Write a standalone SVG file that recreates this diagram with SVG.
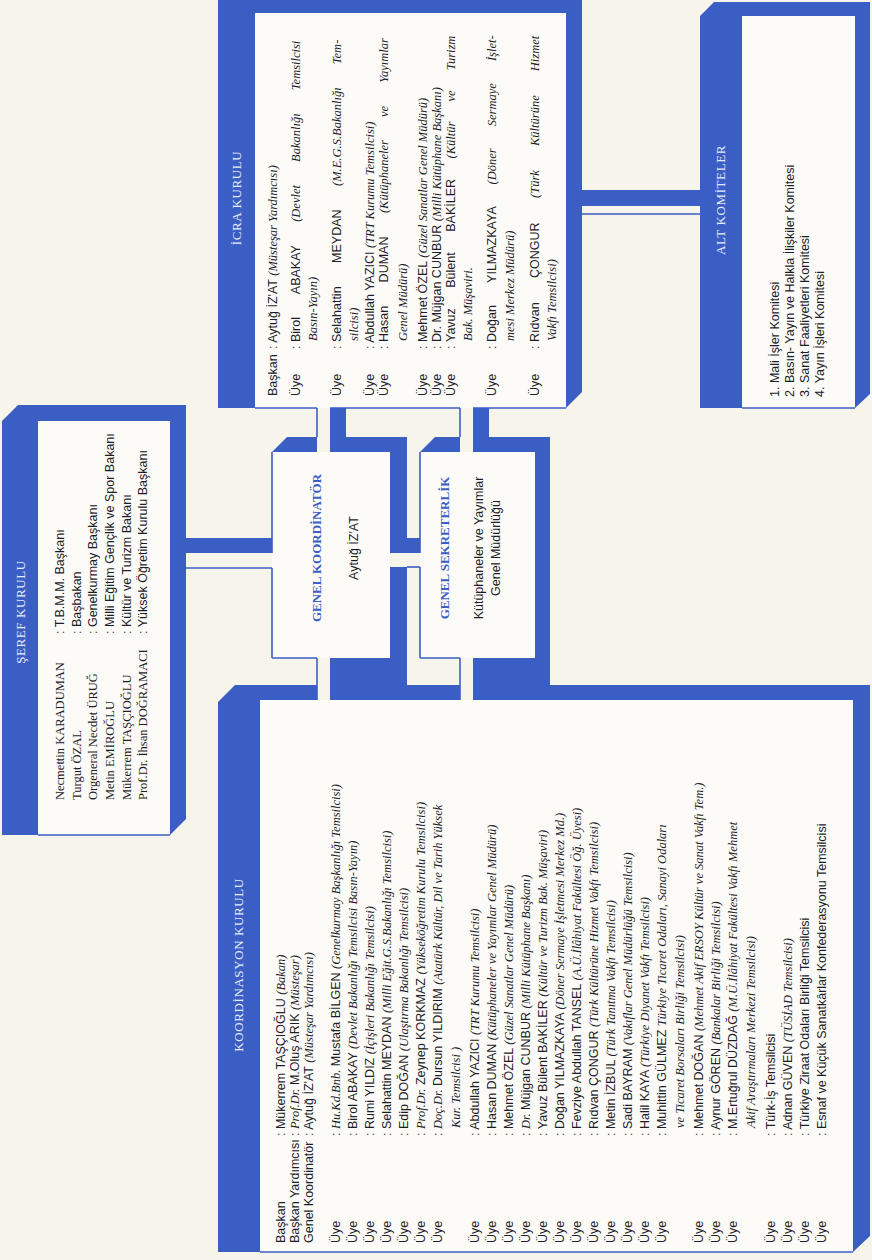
<svg xmlns="http://www.w3.org/2000/svg" width="872" height="1260" viewBox="0 0 872 1260">
<style>
.bg{fill:#f7f4ec}
.in{fill:#fcfbf7}
.b{fill:#3a5ec4}
.th{stroke:#3a5ec4;stroke-width:1.6;fill:none}
.ttl{font-family:"Liberation Serif",serif;font-size:13px;fill:#e6ebf8;letter-spacing:0.6px;text-anchor:middle}
.bt{font-family:"Liberation Serif",serif;font-size:13px;fill:#3a5ec4;font-weight:bold;text-anchor:middle}
.s{font-family:"Liberation Sans",sans-serif;font-size:12.5px;fill:#1c1c2a}
.sr{font-family:"Liberation Serif",serif;font-size:12.5px;fill:#1c1c2a}
.it{font-family:"Liberation Serif",serif;font-style:italic}
.c{text-anchor:middle}
</style>
<rect class="bg" x="0" y="0" width="872" height="1260"/>

<g id="connectors">
  <!-- Şeref -> Genel Koordinatör -->
  <rect class="b" x="186" y="538" width="87" height="15"/>
  <line class="th" x1="186" y1="568" x2="272" y2="568"/>
  <!-- İcra -> Genel Koordinatör -->
  <rect class="b" x="330" y="408" width="16" height="44"/>
  <line class="th" x1="317" y1="408" x2="317" y2="437"/>
  <!-- İcra -> Genel Sekreterlik -->
  <rect class="b" x="473" y="408" width="16" height="44"/>
  <line class="th" x1="460" y1="408" x2="460" y2="437"/>
  <!-- Genel Koordinatör -> Genel Sekreterlik -->
  <rect class="b" x="406" y="538" width="15" height="15"/>
  <line class="th" x1="407" y1="567" x2="420" y2="567"/>
  <!-- Genel Koordinatör -> Koordinasyon -->
  <rect class="b" x="330" y="643" width="77" height="43"/>
  <line class="th" x1="317" y1="658" x2="317" y2="700"/>
  <!-- Genel Sekreterlik -> Koordinasyon -->
  <rect class="b" x="473" y="643" width="77" height="43"/>
  <line class="th" x1="460" y1="658" x2="460" y2="700"/>
  <!-- İcra -> Alt Komiteler -->
  <rect class="b" x="581" y="190" width="120" height="16"/>
  <line class="th" x1="582" y1="214" x2="700" y2="214"/>
</g>

<g id="seref">
  <rect class="in" x="38" y="421" width="132" height="414"/>
  <polygon class="b" points="2,421 18,405 186,405 186,819 170,835 170,421 38,421 38,835 2,835"/>
  <line class="th" x1="38" y1="835" x2="170" y2="835"/>
  <text class="ttl" transform="translate(25,612) rotate(-90)">ŞEREF KURULU</text>
  <g class="sr">
    <text transform="translate(64,800) rotate(-90)">Necmettin KARADUMAN</text>
    <text transform="translate(81,800) rotate(-90)">Turgut ÖZAL</text>
    <text transform="translate(97,800) rotate(-90)">Orgeneral Necdet ÜRUĞ</text>
    <text transform="translate(114,800) rotate(-90)">Metin EMİROĞLU</text>
    <text transform="translate(131,800) rotate(-90)">Mükerrem TAŞÇIOĞLU</text>
    <text transform="translate(147,800) rotate(-90)">Prof.Dr. İhsan DOĞRAMACI</text>
  </g>
  <g class="s" font-size="11.5px">
    <text transform="translate(64,634) rotate(-90)">:  T.B.M.M. Başkanı</text>
    <text transform="translate(81,634) rotate(-90)">:  Başbakan</text>
    <text transform="translate(97,634) rotate(-90)">:  Genelkurmay Başkanı</text>
    <text transform="translate(114,634) rotate(-90)">:  Milli Eğitim Gençlik ve Spor Bakanı</text>
    <text transform="translate(131,634) rotate(-90)">:  Kültür ve Turizm Bakanı</text>
    <text transform="translate(147,634) rotate(-90)">:  Yüksek Öğretim Kurulu Başkanı</text>
  </g>
</g>

<g id="icra">
  <rect class="in" x="255" y="13" width="311" height="395"/>
  <polygon class="b" points="218,0 582,0 582,392 566,408 566,13 255,13 255,408 218,408"/>
  <line class="th" x1="255" y1="408" x2="317" y2="408"/>
  <line class="th" x1="330" y1="408" x2="460" y2="408"/>
  <line class="th" x1="473" y1="408" x2="566" y2="408"/>
  <text class="ttl" transform="translate(241,198) rotate(-90)">İCRA KURULU</text>
  <g class="s">
    <text transform="translate(277,396) rotate(-90)">Başkan</text>
    <text transform="translate(300,396) rotate(-90)">Üye</text>
    <text transform="translate(341,396) rotate(-90)">Üye</text>
    <text transform="translate(374,396) rotate(-90)">Üye</text>
    <text transform="translate(388,396) rotate(-90)">Üye</text>
    <text transform="translate(427,396) rotate(-90)">Üye</text>
    <text transform="translate(441,396) rotate(-90)">Üye</text>
    <text transform="translate(455,396) rotate(-90)">Üye</text>
    <text transform="translate(496,396) rotate(-90)">Üye</text>
    <text transform="translate(539,396) rotate(-90)">Üye</text>
    <text transform="translate(300,349) rotate(-90)">:</text>
    <text transform="translate(341,349) rotate(-90)">:</text>
    <text transform="translate(388,349) rotate(-90)">:</text>
    <text transform="translate(455,349) rotate(-90)">:</text>
    <text transform="translate(496,349) rotate(-90)">:</text>
    <text transform="translate(539,349) rotate(-90)">:</text>

    <text transform="translate(277,349) rotate(-90)">: Aytuğ İZ'AT <tspan class="it">(Müsteşar Yardımcısı)</tspan></text>
    <text transform="translate(300,342) rotate(-90)" word-spacing="20">Birol ABAKAY <tspan class="it">(Devlet Bakanlığı Temsilcisi</tspan></text>
    <text class="it" transform="translate(317,341) rotate(-90)">Basın-Yayın)</text>
    <text transform="translate(341,342) rotate(-90)" word-spacing="20">Selahattin MEYDAN <tspan class="it">(M.E.G.S.Bakanlığı Tem-</tspan></text>
    <text class="it" transform="translate(358,341) rotate(-90)">silcisi)</text>
    <text transform="translate(374,349) rotate(-90)">: Abdullah YAZICI <tspan class="it">(TRT Kurumu Temsilcisi)</tspan></text>
    <text transform="translate(388,342) rotate(-90)" word-spacing="20">Hasan DUMAN <tspan class="it">(Kütüphaneler ve Yayımlar</tspan></text>
    <text class="it" transform="translate(407,341) rotate(-90)">Genel Müdürü)</text>
    <text transform="translate(427,349) rotate(-90)">: Mehmet ÖZEL <tspan class="it">(Güzel Sanatlar Genel Müdürü)</tspan></text>
    <text transform="translate(441,349) rotate(-90)">: Dr. Müjgan CUNBUR <tspan class="it">(Milli Kütüphane Başkanı)</tspan></text>
    <text transform="translate(455,342) rotate(-90)" word-spacing="17">Yavuz Bülent BAKİLER <tspan class="it">(Kültür ve Turizm</tspan></text>
    <text class="it" transform="translate(472,341) rotate(-90)">Bak. Müşaviri.</text>
    <text transform="translate(496,342) rotate(-90)" word-spacing="19">Doğan YILMAZKAYA <tspan class="it">(Döner Sermaye İşlet-</tspan></text>
    <text class="it" transform="translate(514,341) rotate(-90)">mesi Merkez Müdürü)</text>
    <text transform="translate(539,342) rotate(-90)" word-spacing="21">Rıdvan ÇONGUR <tspan class="it">(Türk Kültürüne Hizmet</tspan></text>
    <text class="it" transform="translate(556,341) rotate(-90)">Vakfı Temsilcisi)</text>
  </g>
</g>

<g id="alt-komiteler">
  <rect class="in" x="742" y="16" width="113" height="392"/>
  <polygon class="b" points="700,16 714,2 870,2 870,394 855,408 855,16 742,16 742,408 700,408"/>
  <line class="th" x1="742" y1="408" x2="855" y2="408"/>
  <text class="ttl" transform="translate(725,200) rotate(-90)">ALT KOMİTELER</text>
  <g class="s">
    <text transform="translate(779,397) rotate(-90)">1.  Mali İşler Komitesi</text>
    <text transform="translate(794,397) rotate(-90)">2.  Basın- Yayın ve Halkla İlişkiler Komitesi</text>
    <text transform="translate(809,397) rotate(-90)">3.  Sanat Faaliyetleri Komitesi</text>
    <text transform="translate(824,397) rotate(-90)">4.  Yayın İşleri Komitesi</text>
  </g>
</g>

<g id="genel-koordinator">
  <rect class="in" x="272" y="452" width="118" height="206"/>
  <polygon class="b" points="272,452 287,437 317,437 317,452"/>
  <rect class="b" x="330" y="437" width="77" height="15"/>
  <rect class="b" x="390" y="437" width="17" height="116"/>
  <polygon class="b" points="390,567 407,567 407,643 390,658"/>
  <line class="th" x1="272" y1="452" x2="272" y2="553"/>
  <line class="th" x1="272" y1="568" x2="272" y2="658"/>
  <line class="th" x1="272" y1="658" x2="317" y2="658"/>
  <text class="bt" transform="translate(321,548) rotate(-90)">GENEL KOORDİNATÖR</text>
  <text class="s c" font-size="13.5px" transform="translate(358,548) rotate(-90)">Aytuğ İZ'AT</text>
</g>

<g id="genel-sekreterlik">
  <rect class="in" x="420" y="452" width="115" height="206"/>
  <polygon class="b" points="420,452 435,437 460,437 460,452"/>
  <rect class="b" x="473" y="437" width="77" height="15"/>
  <polygon class="b" points="535,437 550,437 550,643 535,658"/>
  <line class="th" x1="420" y1="452" x2="420" y2="553"/>
  <line class="th" x1="420" y1="567" x2="420" y2="658"/>
  <line class="th" x1="420" y1="658" x2="460" y2="658"/>
  <text class="bt" transform="translate(449,548) rotate(-90)">GENEL SEKRETERLİK</text>
  <text class="s c" font-size="13px" transform="translate(483,548) rotate(-90)">Kütüphaneler ve Yayımlar</text>
  <text class="s c" font-size="13px" transform="translate(500,548) rotate(-90)">Genel Müdürlüğü</text>
</g>

<g id="koordinasyon">
  <rect class="in" x="260" y="700" width="593" height="552"/>
  <polygon class="b" points="218,702 235,685 317,685 317,700 260,700 260,1252 218,1252"/>
  <rect class="b" x="330" y="685" width="130" height="15"/>
  <polygon class="b" points="473,685 870,685 870,1236 853,1252 853,700 473,700"/>
  <line class="th" x1="260" y1="1252" x2="853" y2="1252"/>
  <text class="ttl" transform="translate(243,965) rotate(-90)">KOORDİNASYON KURULU</text>
  <g class="s">
    <text transform="translate(285,1243) rotate(-90)">Başkan</text>
    <text transform="translate(299,1243) rotate(-90)">Başkan Yardımcısı</text>
    <text transform="translate(313,1243) rotate(-90)">Genel Koordinatör</text>
    <text transform="translate(285,1136) rotate(-90)">: Mükerrem TAŞÇIOĞLU <tspan class="it">(Bakan)</tspan></text>
    <text transform="translate(299,1136) rotate(-90)">: <tspan class="it">Prof.Dr.</tspan> M.Oluş ARIK <tspan class="it">(Müsteşar)</tspan></text>
    <text transform="translate(313,1136) rotate(-90)">: Aytuğ İZ'AT <tspan class="it">(Müsteşar Yardımcısı)</tspan></text>

    <text transform="translate(340,1243) rotate(-90)">Üye</text>
    <text transform="translate(357,1243) rotate(-90)">Üye</text>
    <text transform="translate(374,1243) rotate(-90)">Üye</text>
    <text transform="translate(391,1243) rotate(-90)">Üye</text>
    <text transform="translate(408,1243) rotate(-90)">Üye</text>
    <text transform="translate(425,1243) rotate(-90)">Üye</text>
    <text transform="translate(442,1243) rotate(-90)">Üye</text>
    <text transform="translate(479,1243) rotate(-90)">Üye</text>
    <text transform="translate(496,1243) rotate(-90)">Üye</text>
    <text transform="translate(513,1243) rotate(-90)">Üye</text>
    <text transform="translate(530,1243) rotate(-90)">Üye</text>
    <text transform="translate(547,1243) rotate(-90)">Üye</text>
    <text transform="translate(564,1243) rotate(-90)">Üye</text>
    <text transform="translate(581,1243) rotate(-90)">Üye</text>
    <text transform="translate(598,1243) rotate(-90)">Üye</text>
    <text transform="translate(615,1243) rotate(-90)">Üye</text>
    <text transform="translate(632,1243) rotate(-90)">Üye</text>
    <text transform="translate(649,1243) rotate(-90)">Üye</text>
    <text transform="translate(666,1243) rotate(-90)">Üye</text>
    <text transform="translate(703,1243) rotate(-90)">Üye</text>
    <text transform="translate(720,1243) rotate(-90)">Üye</text>
    <text transform="translate(737,1243) rotate(-90)">Üye</text>
    <text transform="translate(775,1243) rotate(-90)">Üye</text>
    <text transform="translate(792,1243) rotate(-90)">Üye</text>
    <text transform="translate(809,1243) rotate(-90)">Üye</text>
    <text transform="translate(826,1243) rotate(-90)">Üye</text>

    <text transform="translate(340,1136) rotate(-90)">: <tspan class="it">Hu.Kd.Bnb.</tspan> Mustafa BİLGEN <tspan class="it">(Genelkurmay Başkanlığı Temsilcisi)</tspan></text>
    <text transform="translate(357,1136) rotate(-90)">: Birol ABAKAY <tspan class="it">(Devlet Bakanlığı Temsilcisi Basın-Yayın)</tspan></text>
    <text transform="translate(374,1136) rotate(-90)">: Rumi YILDIZ <tspan class="it">(İçişleri Bakanlığı Temsilcisi)</tspan></text>
    <text transform="translate(391,1136) rotate(-90)">: Selahattin MEYDAN <tspan class="it">(Milli Eğit.G.S.Bakanlığı Temsilcisi)</tspan></text>
    <text transform="translate(408,1136) rotate(-90)">: Edip DOĞAN <tspan class="it">(Ulaştırma Bakanlığı Temsilcisi)</tspan></text>
    <text transform="translate(425,1136) rotate(-90)">: <tspan class="it">Prof.Dr.</tspan> Zeynep KORKMAZ <tspan class="it">(Yükseköğretim Kurulu Temsilcisi)</tspan></text>
    <text transform="translate(442,1136) rotate(-90)">: <tspan class="it">Doç.Dr.</tspan> Dursun YILDIRIM <tspan class="it">(Atatürk Kültür, Dil ve Tarih Yüksek</tspan></text>
    <text class="it" transform="translate(460,1128) rotate(-90)">Kur.   Temsilcisi )</text>
    <text transform="translate(479,1136) rotate(-90)">: Abdullah YAZICI <tspan class="it">(TRT Kurumu Temsilcisi)</tspan></text>
    <text transform="translate(496,1136) rotate(-90)">: Hasan DUMAN <tspan class="it">(Kütüphaneler ve Yayımlar Genel Müdürü)</tspan></text>
    <text transform="translate(513,1136) rotate(-90)">: Mehmet ÖZEL <tspan class="it">(Güzel Sanatlar Genel Müdürü)</tspan></text>
    <text transform="translate(530,1136) rotate(-90)">: <tspan class="it">Dr.</tspan> Müjgan CUNBUR <tspan class="it">(Milli Kütüphane Başkanı)</tspan></text>
    <text transform="translate(547,1136) rotate(-90)">: Yavuz Bülent BAKİLER <tspan class="it">(Kültür ve Turizm Bak. Müşaviri)</tspan></text>
    <text transform="translate(564,1136) rotate(-90)">: Doğan YILMAZKAYA <tspan class="it">(Döner Sermaye İşletmesi Merkez Md.)</tspan></text>
    <text transform="translate(581,1136) rotate(-90)">: Fevziye Abdullah TANSEL <tspan class="it">(A.Ü.İlâhiyat Fakültesi Öğ. Üyesi)</tspan></text>
    <text transform="translate(598,1136) rotate(-90)">: Rıdvan ÇONGUR <tspan class="it">(Türk Kültürüne Hizmet Vakfı Temsilcisi)</tspan></text>
    <text transform="translate(615,1136) rotate(-90)">: Metin İZBUL <tspan class="it">(Türk Tanıtma Vakfı Temsilcisi)</tspan></text>
    <text transform="translate(632,1136) rotate(-90)">: Sadi BAYRAM <tspan class="it">(Vakıflar Genel Müdürlüğü Temsilcisi)</tspan></text>
    <text transform="translate(649,1136) rotate(-90)">: Halil KAYA <tspan class="it">(Türkiye Diyanet Vakfı Temsilcisi)</tspan></text>
    <text transform="translate(666,1136) rotate(-90)">: Muhittin GÜLMEZ <tspan class="it">Türkiye Ticaret Odaları, Sanayi Odaları</tspan></text>
    <text class="it" transform="translate(684,1128) rotate(-90)">ve Ticaret Borsaları Birliği Temsilcisi)</text>
    <text transform="translate(703,1136) rotate(-90)">: Mehmet DOĞAN <tspan class="it">(Mehmet Akif ERSOY Kültür ve Sanat Vakfı Tem.)</tspan></text>
    <text transform="translate(720,1136) rotate(-90)">: Aynur GÖREN <tspan class="it">(Bankalar Birliği Temsilcisi)</tspan></text>
    <text transform="translate(737,1136) rotate(-90)">: M.Ertuğrul DÜZDAĞ <tspan class="it">(M.Ü.İlâhiyat Fakültesi Vakfı Mehmet</tspan></text>
    <text class="it" transform="translate(755,1128) rotate(-90)">Akif Araştırmaları Merkezi Temsilcisi)</text>
    <text transform="translate(775,1136) rotate(-90)">: Türk-İş Temsilcisi</text>
    <text transform="translate(792,1136) rotate(-90)">: Adnan GÜVEN <tspan class="it">(TÜSİAD Temsilcisi)</tspan></text>
    <text transform="translate(809,1136) rotate(-90)">: Türkiye Ziraat Odaları Birliği Temsilcisi</text>
    <text transform="translate(826,1136) rotate(-90)">: Esnaf ve Küçük Sanatkârlar Konfederasyonu Temsilcisi</text>
  </g>
</g>
</svg>
